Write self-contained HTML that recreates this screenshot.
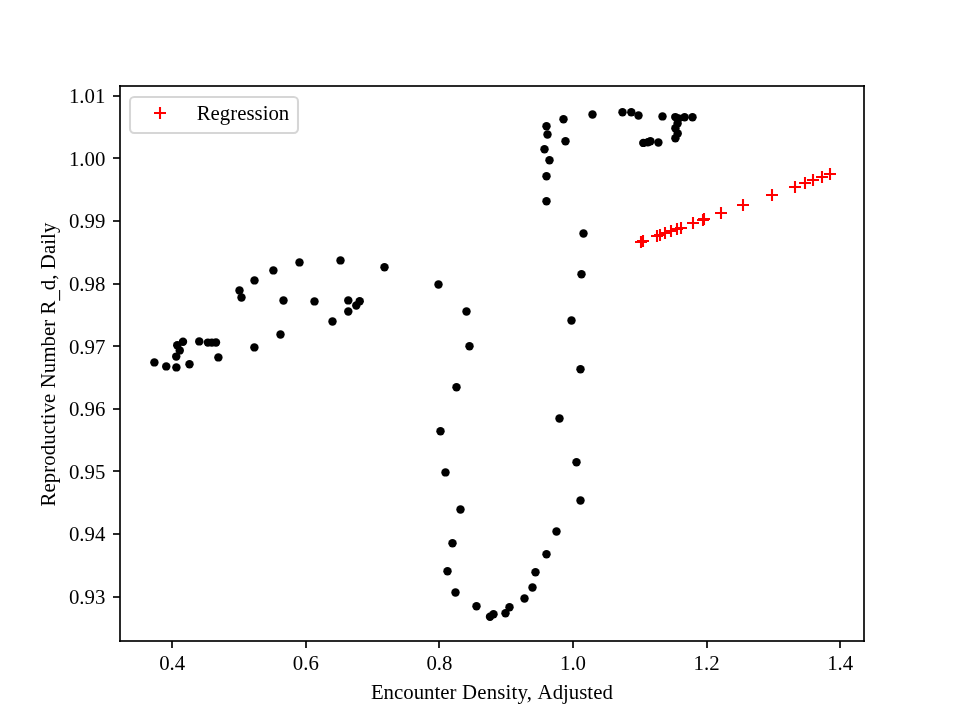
<!DOCTYPE html>
<html><head><meta charset="utf-8"><title>Plot</title>
<style>
html,body{margin:0;padding:0;background:#fff;}
svg{display:block;will-change:transform;}
text{font-family:"Liberation Serif","Times New Roman",serif;font-size:20.83px;fill:#000;}
</style></head><body>
<svg width="960" height="720" viewBox="0 0 960 720">
<rect width="960" height="720" fill="#fff"/>

<g fill="#000">
<circle cx="154.40" cy="362.40" r="4.22"/>
<circle cx="166.25" cy="366.40" r="4.22"/>
<circle cx="176.40" cy="367.40" r="4.22"/>
<circle cx="189.50" cy="364.25" r="4.22"/>
<circle cx="176.25" cy="356.60" r="4.22"/>
<circle cx="179.75" cy="350.40" r="4.22"/>
<circle cx="177.25" cy="345.25" r="4.22"/>
<circle cx="183.00" cy="341.75" r="4.22"/>
<circle cx="199.25" cy="341.40" r="4.22"/>
<circle cx="207.90" cy="342.60" r="4.22"/>
<circle cx="211.90" cy="342.60" r="4.22"/>
<circle cx="216.00" cy="342.50" r="4.22"/>
<circle cx="218.40" cy="357.40" r="4.22"/>
<circle cx="254.40" cy="347.40" r="4.22"/>
<circle cx="239.50" cy="290.40" r="4.22"/>
<circle cx="241.50" cy="297.50" r="4.22"/>
<circle cx="254.50" cy="280.40" r="4.22"/>
<circle cx="273.40" cy="270.40" r="4.22"/>
<circle cx="299.50" cy="262.40" r="4.22"/>
<circle cx="340.50" cy="260.40" r="4.22"/>
<circle cx="283.50" cy="300.50" r="4.22"/>
<circle cx="314.50" cy="301.40" r="4.22"/>
<circle cx="332.50" cy="321.50" r="4.22"/>
<circle cx="280.50" cy="334.50" r="4.22"/>
<circle cx="348.30" cy="300.40" r="4.22"/>
<circle cx="348.30" cy="311.50" r="4.22"/>
<circle cx="356.30" cy="305.50" r="4.22"/>
<circle cx="359.70" cy="301.30" r="4.22"/>
<circle cx="384.50" cy="267.30" r="4.22"/>
<circle cx="438.50" cy="284.50" r="4.22"/>
<circle cx="466.50" cy="311.50" r="4.22"/>
<circle cx="469.50" cy="346.30" r="4.22"/>
<circle cx="456.50" cy="387.30" r="4.22"/>
<circle cx="440.50" cy="431.30" r="4.22"/>
<circle cx="445.50" cy="472.40" r="4.22"/>
<circle cx="460.50" cy="509.50" r="4.22"/>
<circle cx="452.50" cy="543.30" r="4.22"/>
<circle cx="447.50" cy="571.30" r="4.22"/>
<circle cx="455.50" cy="592.50" r="4.22"/>
<circle cx="476.50" cy="606.30" r="4.22"/>
<circle cx="490.00" cy="616.70" r="4.22"/>
<circle cx="493.50" cy="614.20" r="4.22"/>
<circle cx="505.50" cy="613.30" r="4.22"/>
<circle cx="509.50" cy="607.30" r="4.22"/>
<circle cx="524.50" cy="598.50" r="4.22"/>
<circle cx="532.50" cy="587.50" r="4.22"/>
<circle cx="535.50" cy="572.30" r="4.22"/>
<circle cx="546.50" cy="554.30" r="4.22"/>
<circle cx="556.50" cy="531.50" r="4.22"/>
<circle cx="580.50" cy="500.50" r="4.22"/>
<circle cx="576.50" cy="462.30" r="4.22"/>
<circle cx="559.50" cy="418.50" r="4.22"/>
<circle cx="580.50" cy="369.30" r="4.22"/>
<circle cx="571.50" cy="320.50" r="4.22"/>
<circle cx="581.50" cy="274.30" r="4.22"/>
<circle cx="583.50" cy="233.50" r="4.22"/>
<circle cx="546.50" cy="201.30" r="4.22"/>
<circle cx="546.50" cy="176.30" r="4.22"/>
<circle cx="549.50" cy="160.30" r="4.22"/>
<circle cx="544.50" cy="149.30" r="4.22"/>
<circle cx="547.50" cy="134.50" r="4.22"/>
<circle cx="546.50" cy="126.20" r="4.22"/>
<circle cx="563.50" cy="119.30" r="4.22"/>
<circle cx="565.50" cy="141.30" r="4.22"/>
<circle cx="592.50" cy="114.50" r="4.22"/>
<circle cx="622.50" cy="112.30" r="4.22"/>
<circle cx="631.30" cy="112.30" r="4.22"/>
<circle cx="638.50" cy="115.50" r="4.22"/>
<circle cx="662.50" cy="116.40" r="4.22"/>
<circle cx="643.30" cy="142.90" r="4.22"/>
<circle cx="647.90" cy="142.30" r="4.22"/>
<circle cx="650.40" cy="141.25" r="4.22"/>
<circle cx="658.40" cy="142.50" r="4.22"/>
<circle cx="675.30" cy="117.10" r="4.22"/>
<circle cx="678.50" cy="118.40" r="4.22"/>
<circle cx="677.60" cy="123.40" r="4.22"/>
<circle cx="675.40" cy="128.30" r="4.22"/>
<circle cx="677.70" cy="133.50" r="4.22"/>
<circle cx="675.40" cy="138.30" r="4.22"/>
<circle cx="684.60" cy="117.30" r="4.22"/>
<circle cx="692.50" cy="117.30" r="4.22"/>
</g>
<path fill="none" stroke="#f00" stroke-width="2.083" d="M635 242h12M641 236v12M637 241h12M643 235v12M651 236h12M657 230v12M654 235h12M660 229v12M659 233h12M665 227v12M665 231h12M671 225v12M671 229h12M677 223v12M675 228h12M681 222v12M687 223h12M693 217v12M697 220h12M703 214v12M698 219h12M704 213v12M715 213h12M721 207v12M737 205h12M743 199v12M766 195h12M772 189v12M789 187h12M795 181v12M799 183h12M805 177v12M807 180h12M813 174v12M816 177h12M822 171v12M824 174h12M830 168v12"/>
<g fill="#000" fill-opacity="0.8353" shape-rendering="crispEdges">
<rect x="171" y="641" width="2" height="7"/>
<rect x="305" y="641" width="2" height="7"/>
<rect x="438" y="641" width="2" height="7"/>
<rect x="572" y="641" width="2" height="7"/>
<rect x="706" y="641" width="2" height="7"/>
<rect x="839" y="641" width="2" height="7"/>
<rect x="113" y="95" width="7" height="2"/>
<rect x="113" y="157" width="7" height="2"/>
<rect x="113" y="220" width="7" height="2"/>
<rect x="113" y="283" width="7" height="2"/>
<rect x="113" y="345" width="7" height="2"/>
<rect x="113" y="408" width="7" height="2"/>
<rect x="113" y="470" width="7" height="2"/>
<rect x="113" y="533" width="7" height="2"/>
<rect x="113" y="596" width="7" height="2"/>
<rect x="119" y="85" width="2" height="557"/><rect x="863" y="85" width="2" height="557"/>
<rect x="119" y="85" width="746" height="2"/><rect x="119" y="640" width="746" height="2"/>
</g>
<g text-anchor="middle">
<text x="172.20" y="670">0.4</text>
<text x="305.80" y="670">0.6</text>
<text x="439.40" y="670">0.8</text>
<text x="573.00" y="670">1.0</text>
<text x="706.60" y="670">1.2</text>
<text x="840.20" y="670">1.4</text>
</g>
<g text-anchor="end">
<text x="105.4" y="103">1.01</text>
<text x="105.4" y="166">1.00</text>
<text x="105.4" y="228">0.99</text>
<text x="105.4" y="291">0.98</text>
<text x="105.4" y="354">0.97</text>
<text x="105.4" y="416">0.96</text>
<text x="105.4" y="479">0.95</text>
<text x="105.4" y="541">0.94</text>
<text x="105.4" y="604">0.93</text>
</g>
<text y="698.5"><tspan x="370.9">Encounter </tspan><tspan x="462.0" textLength="75.3" lengthAdjust="spacing">Density, </tspan><tspan x="537.6">Adjusted</tspan></text>
<text transform="translate(55,506.4) rotate(-90)" textLength="283.75" lengthAdjust="spacing">Reproductive Number R<tspan dy="2">_</tspan><tspan dy="-2">d, Daily</tspan></text>
<rect x="130" y="97" width="168" height="36" rx="4.17" ry="4.17" fill="#fff" fill-opacity="0.8" stroke="#ccc" stroke-opacity="0.8" stroke-width="2.08"/>
<path fill="none" stroke="#f00" stroke-width="2.083" d="M154 113h12M160 107v12"/>
<text x="196.7" y="120">Regression</text>
</svg></body></html>
